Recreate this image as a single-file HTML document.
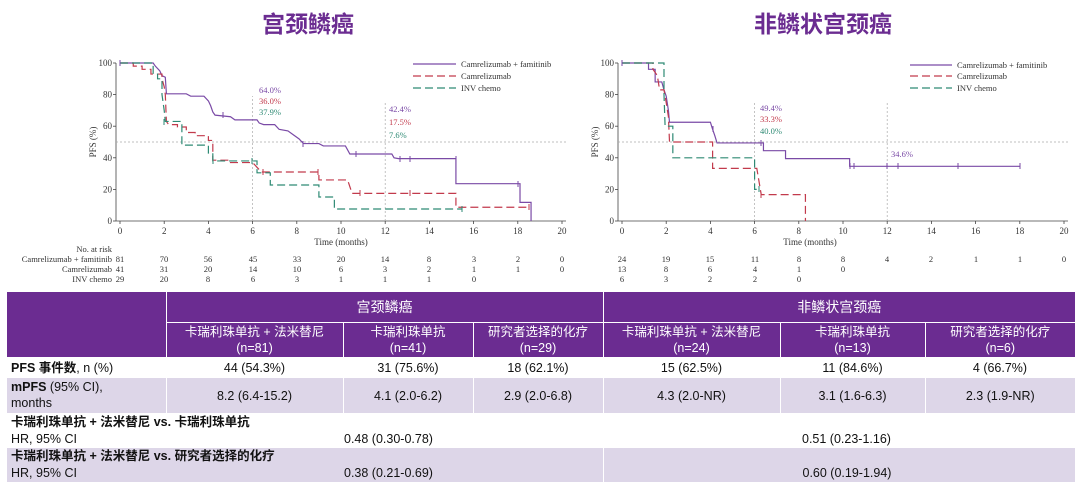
<!DOCTYPE html>
<html><head><meta charset="utf-8"><style>
body{margin:0;width:1080px;height:487px;background:#fff;overflow:hidden;font-family:"Liberation Sans","Noto Sans CJK SC",sans-serif}
.t{position:absolute;top:5px;font-size:23px;font-weight:bold;color:#6b2c91;font-family:"Liberation Sans","Noto Sans CJK SC",sans-serif}
table{position:absolute;left:7px;top:292px;width:1068px;border-collapse:collapse;font-size:12.5px;font-family:"Liberation Sans","Noto Sans CJK SC",sans-serif;color:#111}
td{padding:0 4px;text-align:center;line-height:16px}
.h td{background:#6b2c91;color:#fff;border-left:1px solid #fff;border-bottom:1px solid #fff}
.l td{background:#ddd6e8}
td.f{text-align:left}
</style></head><body>
<div class="t" style="left:262px">宫颈鳞癌</div>
<div class="t" style="left:754px">非鳞状宫颈癌</div>
<svg width="1080" height="292" style="position:absolute;left:0;top:0" font-family="Liberation Serif,serif" font-size="9" fill="#333">
<defs>
<g id="ax" stroke="#444" stroke-width="0.8" fill="none">
<line x1="-4" y1="0" x2="446" y2="0"/><line x1="-4" y1="0" x2="-4" y2="-158"/>
</g>
</defs>
<g transform="translate(120,221)">
<use href="#ax"/>
<g stroke="#444" stroke-width="0.8">
<line x1="0" y1="0" x2="0" y2="3"/><line x1="44.2" y1="0" x2="44.2" y2="3"/><line x1="88.4" y1="0" x2="88.4" y2="3"/><line x1="132.6" y1="0" x2="132.6" y2="3"/><line x1="176.8" y1="0" x2="176.8" y2="3"/><line x1="221" y1="0" x2="221" y2="3"/><line x1="265.2" y1="0" x2="265.2" y2="3"/><line x1="309.4" y1="0" x2="309.4" y2="3"/><line x1="353.6" y1="0" x2="353.6" y2="3"/><line x1="397.8" y1="0" x2="397.8" y2="3"/><line x1="442" y1="0" x2="442" y2="3"/>
<line x1="-7" y1="0" x2="-4" y2="0"/><line x1="-7" y1="-31.6" x2="-4" y2="-31.6"/><line x1="-7" y1="-63.2" x2="-4" y2="-63.2"/><line x1="-7" y1="-94.8" x2="-4" y2="-94.8"/><line x1="-7" y1="-126.4" x2="-4" y2="-126.4"/><line x1="-7" y1="-158" x2="-4" y2="-158"/>
</g>
<g stroke="#aaa" stroke-width="0.7" stroke-dasharray="2,2">
<line x1="-4" y1="-79" x2="446" y2="-79"/><line x1="132.6" y1="0" x2="132.6" y2="-125"/><line x1="265.2" y1="0" x2="265.2" y2="-120"/>
</g>
<g text-anchor="middle"><text x="0" y="13">0</text><text x="44.2" y="13">2</text><text x="88.4" y="13">4</text><text x="132.6" y="13">6</text><text x="176.8" y="13">8</text><text x="221" y="13">10</text><text x="265.2" y="13">12</text><text x="309.4" y="13">14</text><text x="353.6" y="13">16</text><text x="397.8" y="13">18</text><text x="442" y="13">20</text><text x="221" y="24">Time (months)</text></g>
<g text-anchor="end"><text x="-8" y="3">0</text><text x="-8" y="-28.6">20</text><text x="-8" y="-60.2">40</text><text x="-8" y="-91.8">60</text><text x="-8" y="-123.4">80</text><text x="-8" y="-155">100</text></g>
<text transform="translate(-24,-79) rotate(-90)" text-anchor="middle">PFS (%)</text>
<g transform="scale(22.1,-1.58)" fill="none" stroke-width="1.2">
<polyline vector-effect="non-scaling-stroke" stroke="#7a4aa6" points="0,100 1.5,100 1.6,98 1.8,95 1.9,92 2.05,91 2.1,80.5 3,80.5 3.2,79 3.8,79 4,76 4.1,73 4.2,69 4.3,67 5,66 5.2,64 6.2,64 6.3,62 6.5,61 7,61 7.2,58 7.6,57 7.8,55 8.1,52 8.3,49 9,49 9.2,47.5 10.2,47.5 10.3,45 10.4,42.4 12.3,42.4 12.4,40 12.6,39.5 15.2,39.5 15.2,23.6 18.1,23.6 18.1,11.8 18.6,11.8 18.6,0"/>
<polyline vector-effect="non-scaling-stroke" stroke="#c23a4c" stroke-dasharray="8,4" points="0,100 0.6,100 0.6,98 1,98 1,96 1.4,96 1.4,93 1.9,93 1.9,90 2,85 2.05,80 2.1,63 2.2,61 2.6,61 2.6,59.5 3,59.5 3,56 3.4,56 3.4,54 4,54 4,51 4.2,51 4.2,38.5 5,38.5 5,37 6,37 6.2,34 6.4,31 9,31 9,26 10.3,26 10.5,17.5 15.2,17.5 15.2,8.7 18.5,8.7"/>
<polyline vector-effect="non-scaling-stroke" stroke="#2e8a74" stroke-dasharray="8,4" points="0,100 1.5,100 1.5,93 1.7,93 1.7,90 1.9,90 1.9,80 2,70 2.05,63 2.8,63 2.8,48 4,48 4,43 4.2,43 4.2,38 6.2,38 6.2,30.5 6.8,30.5 6.8,22.8 9,22.8 9,15.2 9.7,15.2 9.7,7.6 15.5,7.6"/>
</g>
<g stroke="#7a4aa6" stroke-width="1"><line x1="0" y1="-155" x2="0" y2="-161"/><line x1="103" y1="-103" x2="103" y2="-109"/><line x1="183" y1="-74" x2="183" y2="-80"/><line x1="236" y1="-64" x2="236" y2="-70"/><line x1="280" y1="-59" x2="280" y2="-65"/><line x1="290" y1="-59" x2="290" y2="-65"/><line x1="336" y1="-59" x2="336" y2="-65"/><line x1="398" y1="-34" x2="398" y2="-40"/></g>
<g stroke="#c23a4c" stroke-width="1"><line x1="143" y1="-46" x2="143" y2="-52"/><line x1="198" y1="-46" x2="198" y2="-52"/><line x1="240" y1="-25" x2="240" y2="-31"/><line x1="290" y1="-25" x2="290" y2="-31"/><line x1="409" y1="-11" x2="409" y2="-17"/></g>
<g stroke="#2e8a74" stroke-width="1"><line x1="44" y1="-96" x2="44" y2="-102"/><line x1="93" y1="-57" x2="93" y2="-63"/><line x1="132" y1="-57" x2="132" y2="-63"/><line x1="342" y1="-9" x2="342" y2="-15"/></g>
</g>
<g font-size="8.5">
<text x="259" y="93" fill="#7a4aa6">64.0%</text><text x="259" y="104" fill="#c23a4c">36.0%</text><text x="259" y="115" fill="#2e8a74">37.9%</text>
<text x="389" y="112" fill="#7a4aa6">42.4%</text><text x="389" y="125" fill="#c23a4c">17.5%</text><text x="389" y="138" fill="#2e8a74">7.6%</text>
<text x="760" y="111" fill="#7a4aa6">49.4%</text><text x="760" y="122" fill="#c23a4c">33.3%</text><text x="760" y="134" fill="#2e8a74">40.0%</text>
<text x="891" y="157" fill="#7a4aa6">34.6%</text>
</g>
<g font-size="8.5">
<line x1="413" y1="64" x2="456" y2="64" stroke="#7a4aa6" stroke-width="1.2"/><text x="461" y="67">Camrelizumab + famitinib</text>
<line x1="413" y1="76" x2="456" y2="76" stroke="#c23a4c" stroke-width="1.2" stroke-dasharray="8,4"/><text x="461" y="79">Camrelizumab</text>
<line x1="413" y1="88" x2="456" y2="88" stroke="#2e8a74" stroke-width="1.2" stroke-dasharray="8,4"/><text x="461" y="91">INV chemo</text>
<line x1="910" y1="65" x2="952" y2="65" stroke="#7a4aa6" stroke-width="1.2"/><text x="957" y="68">Camrelizumab + famitinib</text>
<line x1="910" y1="76" x2="952" y2="76" stroke="#c23a4c" stroke-width="1.2" stroke-dasharray="8,4"/><text x="957" y="79">Camrelizumab</text>
<line x1="910" y1="88" x2="952" y2="88" stroke="#2e8a74" stroke-width="1.2" stroke-dasharray="8,4"/><text x="957" y="91">INV chemo</text>
</g>
<g transform="translate(622,221)">
<use href="#ax"/>
<g stroke="#444" stroke-width="0.8">
<line x1="0" y1="0" x2="0" y2="3"/><line x1="44.2" y1="0" x2="44.2" y2="3"/><line x1="88.4" y1="0" x2="88.4" y2="3"/><line x1="132.6" y1="0" x2="132.6" y2="3"/><line x1="176.8" y1="0" x2="176.8" y2="3"/><line x1="221" y1="0" x2="221" y2="3"/><line x1="265.2" y1="0" x2="265.2" y2="3"/><line x1="309.4" y1="0" x2="309.4" y2="3"/><line x1="353.6" y1="0" x2="353.6" y2="3"/><line x1="397.8" y1="0" x2="397.8" y2="3"/><line x1="442" y1="0" x2="442" y2="3"/>
<line x1="-7" y1="0" x2="-4" y2="0"/><line x1="-7" y1="-31.6" x2="-4" y2="-31.6"/><line x1="-7" y1="-63.2" x2="-4" y2="-63.2"/><line x1="-7" y1="-94.8" x2="-4" y2="-94.8"/><line x1="-7" y1="-126.4" x2="-4" y2="-126.4"/><line x1="-7" y1="-158" x2="-4" y2="-158"/>
</g>
<g stroke="#aaa" stroke-width="0.7" stroke-dasharray="2,2">
<line x1="-4" y1="-79" x2="446" y2="-79"/><line x1="132.6" y1="0" x2="132.6" y2="-118"/><line x1="265.2" y1="0" x2="265.2" y2="-118"/>
</g>
<g text-anchor="middle"><text x="0" y="13">0</text><text x="44.2" y="13">2</text><text x="88.4" y="13">4</text><text x="132.6" y="13">6</text><text x="176.8" y="13">8</text><text x="221" y="13">10</text><text x="265.2" y="13">12</text><text x="309.4" y="13">14</text><text x="353.6" y="13">16</text><text x="397.8" y="13">18</text><text x="442" y="13">20</text><text x="188" y="24">Time (months)</text></g>
<g text-anchor="end"><text x="-8" y="3">0</text><text x="-8" y="-28.6">20</text><text x="-8" y="-60.2">40</text><text x="-8" y="-91.8">60</text><text x="-8" y="-123.4">80</text><text x="-8" y="-155">100</text></g>
<text transform="translate(-24,-79) rotate(-90)" text-anchor="middle">PFS (%)</text>
<g transform="scale(22.1,-1.58)" fill="none" stroke-width="1.2">
<polyline vector-effect="non-scaling-stroke" stroke="#7a4aa6" points="0,100 1.2,100 1.2,96 1.5,96 1.5,88 1.8,88 1.9,83 2,79 2.1,70 2.15,62.5 4,62.5 4.1,58 4.2,54 4.3,49.4 6.4,49.4 6.4,44.5 7.4,44.5 7.4,39.5 10.3,39.5 10.3,34.6 18,34.6"/>
<polyline vector-effect="non-scaling-stroke" stroke="#c23a4c" stroke-dasharray="8,4" points="0,100 1.4,100 1.4,96 1.6,92 1.7,83 1.9,83 2,75 2.1,66 2.15,50 4.1,50 4.1,33.3 6.1,33.3 6.2,25 6.3,16.7 8.3,16.7 8.3,0"/>
<polyline vector-effect="non-scaling-stroke" stroke="#2e8a74" stroke-dasharray="8,4" points="0,100 1.9,100 1.9,80 1.95,60 2.3,60 2.3,40 6,40 6,20 6.2,20"/>
</g>
<g stroke="#7a4aa6" stroke-width="1"><line x1="0" y1="-155" x2="0" y2="-161"/><line x1="91" y1="-89" x2="91" y2="-95"/><line x1="139" y1="-75" x2="139" y2="-81"/><line x1="228" y1="-52" x2="228" y2="-58"/><line x1="232" y1="-52" x2="232" y2="-58"/><line x1="265" y1="-52" x2="265" y2="-58"/><line x1="276" y1="-52" x2="276" y2="-58"/><line x1="336" y1="-52" x2="336" y2="-58"/><line x1="398" y1="-52" x2="398" y2="-58"/></g>
<g stroke="#c23a4c" stroke-width="1"><line x1="139" y1="-23" x2="139" y2="-29"/></g>
<g stroke="#2e8a74" stroke-width="1"><line x1="137" y1="-29" x2="137" y2="-35"/></g>
</g>
<g font-size="8.5" text-anchor="end"><text x="112" y="252">No. at risk</text><text x="112" y="262">Camrelizumab + famitinib</text><text x="112" y="272">Camrelizumab</text><text x="112" y="282">INV chemo</text></g>
<g font-size="8.5" text-anchor="middle">
<text y="262"><tspan x="120">81</tspan><tspan x="164">70</tspan><tspan x="208">56</tspan><tspan x="253">45</tspan><tspan x="297">33</tspan><tspan x="341">20</tspan><tspan x="385">14</tspan><tspan x="429">8</tspan><tspan x="474">3</tspan><tspan x="518">2</tspan><tspan x="562">0</tspan></text>
<text y="272"><tspan x="120">41</tspan><tspan x="164">31</tspan><tspan x="208">20</tspan><tspan x="253">14</tspan><tspan x="297">10</tspan><tspan x="341">6</tspan><tspan x="385">3</tspan><tspan x="429">2</tspan><tspan x="474">1</tspan><tspan x="518">1</tspan><tspan x="562">0</tspan></text>
<text y="282"><tspan x="120">29</tspan><tspan x="164">20</tspan><tspan x="208">8</tspan><tspan x="253">6</tspan><tspan x="297">3</tspan><tspan x="341">1</tspan><tspan x="385">1</tspan><tspan x="429">1</tspan><tspan x="474">0</tspan></text>
<text y="262"><tspan x="622">24</tspan><tspan x="666">19</tspan><tspan x="710">15</tspan><tspan x="755">11</tspan><tspan x="799">8</tspan><tspan x="843">8</tspan><tspan x="887">4</tspan><tspan x="931">2</tspan><tspan x="976">1</tspan><tspan x="1020">1</tspan><tspan x="1064">0</tspan></text>
<text y="272"><tspan x="622">13</tspan><tspan x="666">8</tspan><tspan x="710">6</tspan><tspan x="755">4</tspan><tspan x="799">1</tspan><tspan x="843">0</tspan></text>
<text y="282"><tspan x="622">6</tspan><tspan x="666">3</tspan><tspan x="710">2</tspan><tspan x="755">2</tspan><tspan x="799">0</tspan></text>
</g>
</svg>
<table>
<colgroup><col style="width:159px"><col style="width:177px"><col style="width:130px"><col style="width:130px"><col style="width:177px"><col style="width:145px"><col style="width:150px"></colgroup>
<tr class="h" style="height:30px"><td rowspan="2" style="border-left:none"></td><td colspan="3" style="font-size:14px">宫颈鳞癌</td><td colspan="3" style="font-size:14px">非鳞状宫颈癌</td></tr>
<tr class="h" style="height:35px"><td>卡瑞利珠单抗 + 法米替尼<br>(n=81)</td><td>卡瑞利珠单抗<br>(n=41)</td><td>研究者选择的化疗<br>(n=29)</td><td>卡瑞利珠单抗 + 法米替尼<br>(n=24)</td><td>卡瑞利珠单抗<br>(n=13)</td><td>研究者选择的化疗<br>(n=6)</td></tr>
<tr style="height:21px"><td class="f"><b>PFS 事件数</b>, n (%)</td><td>44 (54.3%)</td><td>31 (75.6%)</td><td>18 (62.1%)</td><td>15 (62.5%)</td><td>11 (84.6%)</td><td>4 (66.7%)</td></tr>
<tr class="l" style="height:35px"><td class="f" style="border-bottom:1px solid #fff"><b>mPFS</b> (95% CI),<br>months</td><td style="border-left:1px solid #fff">8.2 (6.4-15.2)</td><td style="border-left:1px solid #fff">4.1 (2.0-6.2)</td><td style="border-left:1px solid #fff">2.9 (2.0-6.8)</td><td style="border-left:1px solid #fff">4.3 (2.0-NR)</td><td style="border-left:1px solid #fff">3.1 (1.6-6.3)</td><td style="border-left:1px solid #fff">2.3 (1.9-NR)</td></tr>
<tr style="height:34px"><td class="f" colspan="4" style="line-height:17px"><b>卡瑞利珠单抗 + 法米替尼 vs. 卡瑞利珠单抗</b><br>HR, 95% CI<span style="position:absolute;left:337px">0.48 (0.30-0.78)</span></td><td colspan="3" style="text-align:left;padding-left:199px;vertical-align:bottom;padding-bottom:1px">0.51 (0.23-1.16)</td></tr>
<tr class="l" style="height:33px"><td class="f" colspan="4" style="line-height:17px"><b>卡瑞利珠单抗 + 法米替尼 vs. 研究者选择的化疗</b><br>HR, 95% CI<span style="position:absolute;left:337px">0.38 (0.21-0.69)</span></td><td colspan="3" style="text-align:left;padding-left:199px;vertical-align:bottom;padding-bottom:1px;border-left:1px solid #fff">0.60 (0.19-1.94)</td></tr>
</table>
</body></html>
